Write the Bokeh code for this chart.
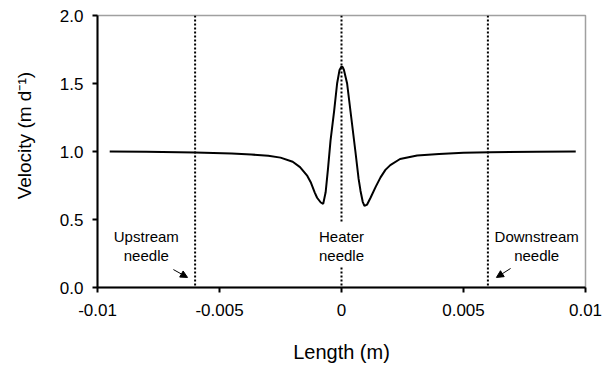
from bokeh.plotting import figure
from bokeh.models import Range1d, FixedTicker, Arrow, NormalHead
from bokeh.core.properties import value
from bokeh.embed import file_html
from bokeh.resources import INLINE

# ---- data ----
length_m = [-0.0095, -0.008, -0.006, -0.0045, -0.0037, -0.003, -0.0025, -0.002, -0.0017,
            -0.0014, -0.00125, -0.0011, -0.001, -0.00085, -0.00075, -0.00065, -0.00055,
            -0.00045, -0.0003, -0.00018, -0.00008, 0.0, 0.00005, 0.0001, 0.00023, 0.0004,
            0.00057, 0.0007, 0.00078, 0.00087, 0.00094, 0.00105, 0.00119, 0.0014, 0.0016,
            0.0018, 0.002, 0.0024, 0.0031, 0.004, 0.005, 0.0061, 0.008, 0.0096]
velocity = [1.0, 0.998, 0.993, 0.985, 0.978, 0.968, 0.955, 0.925, 0.885,
            0.82, 0.77, 0.70, 0.66, 0.625, 0.615, 0.70, 0.88,
            1.08, 1.30, 1.50, 1.60, 1.625, 1.62, 1.60, 1.50, 1.25,
            1.0, 0.80, 0.71, 0.63, 0.60, 0.61, 0.66, 0.74, 0.81,
            0.865, 0.90, 0.945, 0.97, 0.982, 0.99, 0.995, 0.998, 1.0]

needle_x = [-0.006, 0.0, 0.0, 0.006]
needle_y0 = [2.0, 2.0, 0.147, 2.0]
needle_y1 = [0.0, 0.47, 0.0, 0.0]

label_x = [-0.008, 0.0, 0.008]
label_y = [0.305, 0.305, 0.305]
label_text = ["Upstream\nneedle", "Heater\nneedle", "Downstream\nneedle"]

arrow_x0 = [-0.00689, 0.00693]
arrow_y0 = [0.132, 0.14]
arrow_x1 = [-0.00631, 0.00635]
arrow_y1 = [0.074, 0.074]

x_ticks = [-0.01, -0.005, 0, 0.005, 0.01]
x_tick_labels = ["-0.01", "-0.005", "0", "0.005", "0.01"]
y_ticks = [0, 0.5, 1.0, 1.5, 2.0]
y_tick_labels = ["0.0", "0.5", "1.0", "1.5", "2.0"]

FONT = "Liberation Sans"

p = figure(width=603, height=367, output_backend="svg", toolbar_location=None,
           x_range=Range1d(-0.01, 0.01), y_range=Range1d(0, 2.0),
           min_border_left=97, min_border_right=18, min_border_top=15, min_border_bottom=80)
p.background_fill_color = "white"
p.border_fill_color = "white"
p.outline_line_color = "#a0a0a0"
p.outline_line_width = 1.5
p.xgrid.visible = False
p.ygrid.visible = False

# needles
p.segment(x0=needle_x, y0=needle_y0, x1=needle_x, y1=needle_y1,
          line_color="black", line_width=2, line_dash="2 2")

# curve
p.line(length_m, velocity, line_color="black", line_width=2)

# labels
p.text(x=label_x, y=label_y, text=label_text, text_align="center", text_baseline="middle",
       text_font=value(FONT), text_font_size="15px", text_color="black", text_line_height=1.15)

for x0, y0, x1, y1 in zip(arrow_x0, arrow_y0, arrow_x1, arrow_y1):
    p.add_layout(Arrow(x_start=x0, y_start=y0, x_end=x1, y_end=y1, line_width=1,
                       line_color="black",
                       end=NormalHead(size=7, fill_color="black", line_color="black")))

for ax, ticks, labels in ((p.xaxis[0], x_ticks, x_tick_labels), (p.yaxis[0], y_ticks, y_tick_labels)):
    ax.ticker = FixedTicker(ticks=ticks)
    ax.major_label_overrides = {t: l for t, l in zip(ticks, labels)}
    ax.minor_tick_line_color = None
    ax.major_tick_in = 0
    ax.major_tick_out = 5
    ax.major_tick_line_width = 2
    ax.axis_line_width = 2
    ax.axis_line_color = "black"
    ax.major_label_text_font = FONT
    ax.major_label_text_font_size = "17px"
    ax.major_label_text_color = "black"
    ax.axis_label_text_font = FONT
    ax.axis_label_text_font_size = "20px"
    ax.axis_label_text_font_style = "normal"
    ax.axis_label_text_color = "black"

p.yaxis.axis_label_text_font_size = "19px"
p.xaxis.axis_label = "Length (m)"
p.yaxis.axis_label = "\u00a0" * 6 + "Velocity (m d⁻¹)"
p.xaxis.major_label_standoff = 11
p.yaxis.major_label_standoff = 9
p.xaxis.axis_label_standoff = 22
p.yaxis.axis_label_standoff = 22

open("out.html", "w").write(file_html(p, INLINE))
